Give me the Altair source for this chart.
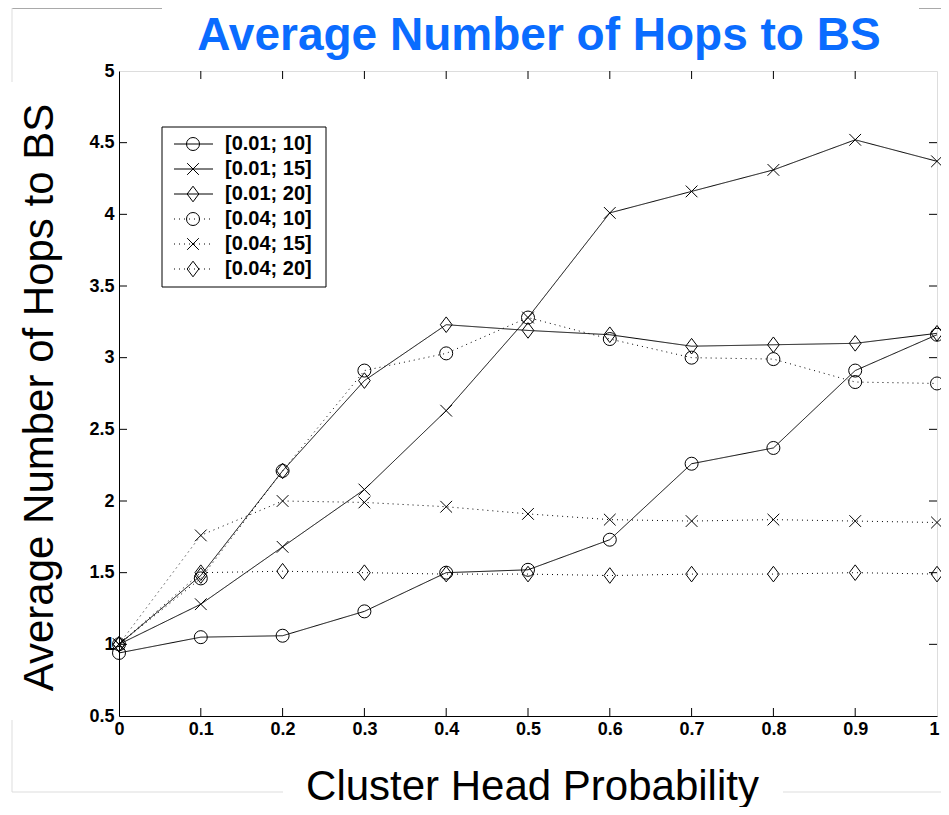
import altair as alt
import pandas as pd

# ---------------- data ----------------
x_vals = [0.0, 0.1, 0.2, 0.3, 0.4, 0.5, 0.6, 0.7, 0.8, 0.9, 1.0]
series_names = ["[0.01; 10]", "[0.01; 15]", "[0.01; 20]",
                "[0.04; 10]", "[0.04; 15]", "[0.04; 20]"]
s_001_10 = [0.94, 1.05, 1.06, 1.23, 1.50, 1.52, 1.73, 2.26, 2.37, 2.91, 3.16]
s_001_15 = [1.00, 1.28, 1.68, 2.08, 2.63, 3.28, 4.01, 4.16, 4.31, 4.52, 4.37]
s_001_20 = [1.00, 1.48, 2.21, 2.84, 3.23, 3.19, 3.16, 3.08, 3.09, 3.10, 3.17]
s_004_10 = [1.00, 1.46, 2.21, 2.91, 3.03, 3.28, 3.13, 3.00, 2.99, 2.83, 2.82]
s_004_15 = [1.00, 1.76, 2.00, 1.99, 1.96, 1.91, 1.87, 1.86, 1.87, 1.86, 1.85]
s_004_20 = [1.00, 1.50, 1.51, 1.50, 1.49, 1.49, 1.48, 1.49, 1.49, 1.50, 1.49]
all_series = [s_001_10, s_001_15, s_001_20, s_004_10, s_004_15, s_004_20]

x_tick_vals = [0.0, 0.1, 0.2, 0.3, 0.4, 0.5, 0.6, 0.7, 0.8, 0.9, 1.0]
y_tick_vals = [0.5, 1.0, 1.5, 2.0, 2.5, 3.0, 3.5, 4.0, 4.5, 5.0]
title_text = "Average Number of Hops to BS"

rows = []
for name, ys in zip(series_names, all_series):
    for xv, yv in zip(x_vals, ys):
        rows.append({"x": xv, "y": yv, "series": name})
df = pd.DataFrame(rows)

# ---------------- layout ----------------
W, H = 818, 645
XMIN, XMAX, YMIN, YMAX = 0.0, 1.0, 0.5, 5.0
FONT = "Liberation Sans"
TICK_PX = 8
tdx = TICK_PX / W * (XMAX - XMIN)
tdy = TICK_PX / H * (YMAX - YMIN)

tick_rows = []
for t in x_tick_vals[1:-1]:
    tick_rows.append({"tx": t, "tx2": t, "ty": YMIN, "ty2": YMIN + tdy})
    tick_rows.append({"tx": t, "tx2": t, "ty": YMAX, "ty2": YMAX - tdy})
for t in y_tick_vals[1:-1]:
    tick_rows.append({"tx": XMIN, "tx2": XMIN + tdx, "ty": t, "ty2": t})
    tick_rows.append({"tx": XMAX, "tx2": XMAX - tdx, "ty": t, "ty2": t})
ticks_df = pd.DataFrame(tick_rows)

x_scale = alt.Scale(domain=[XMIN, XMAX], nice=False, zero=False)
y_scale = alt.Scale(domain=[YMIN, YMAX], nice=False, zero=False)

CROSS = "M-0.9,-0.9L0.9,0.9M0.9,-0.9L-0.9,0.9"
DIAMOND = "M0,-1.2L0.9,0L0,1.2L-0.9,0Z"
shape_scale = alt.Scale(domain=series_names,
                        range=["circle", CROSS, DIAMOND] * 2)
dash_scale = alt.Scale(domain=series_names,
                       range=[[1, 0]] * 3 + [[1, 4]] * 3)

x_axis = alt.Axis(values=x_tick_vals, format="~g",
                  title="Cluster Head Probability",
                  titleFont=FONT, titleFontSize=42, titleFontWeight="normal",
                  titleColor="black", titleX=413, titleY=83,
                  titleAlign="center", titleBaseline="alphabetic",
                  labelFont=FONT, labelFontSize=18, labelFontWeight="bold",
                  labelColor="black", labelPadding=4, labelFlush=False,
                  labelOffset={"condition": {"test": "datum.value >= 1",
                                             "value": -3},
                               "value": 0},
                  labelOverlap=False, ticks=False, tickSize=0, grid=False,
                  domainColor="black", domainWidth=1)
y_axis = alt.Axis(values=y_tick_vals, format="~g",
                  title="Average Number of Hops to BS",
                  titleFont=FONT, titleFontSize=42, titleFontWeight="normal",
                  titleColor="black", titleX=-67, titleY=326, titleAngle=-90,
                  titleAlign="center", titleBaseline="alphabetic",
                  labelFont=FONT, labelFontSize=18, labelFontWeight="bold",
                  labelColor="black", labelPadding=5, labelFlush=False,
                  labelOverlap=False, ticks=False, tickSize=0, grid=False,
                  domainColor="black", domainWidth=1)

base = alt.Chart(df)
lines = base.mark_line(color="black", strokeWidth=1).encode(
    x=alt.X("x:Q", scale=x_scale, axis=x_axis),
    y=alt.Y("y:Q", scale=y_scale, axis=y_axis),
    strokeDash=alt.StrokeDash("series:N", scale=dash_scale, legend=None),
    detail="series:N",
)
points = base.mark_point(filled=False, color="black", size=169,
                         strokeWidth=1, opacity=1).encode(
    x=alt.X("x:Q", scale=x_scale),
    y=alt.Y("y:Q", scale=y_scale),
    shape=alt.Shape("series:N", scale=shape_scale, legend=None),
)
ticks = alt.Chart(ticks_df).mark_rule(color="black", strokeWidth=1).encode(
    x=alt.X("tx:Q", scale=x_scale),
    x2="tx2:Q",
    y=alt.Y("ty:Q", scale=y_scale),
    y2="ty2:Q",
)
main = alt.layer(lines, points, ticks)

# ---------------- legend ----------------
legend_df = pd.DataFrame({"series": series_names})
ly = alt.Y("series:N", axis=None,
           scale=alt.Scale(type="point", domain=series_names,
                           range=[73, 198], padding=0))
legend_box = alt.Chart(pd.DataFrame({"k": [0]})).mark_rect(
    fill="white", stroke="black", strokeWidth=1).encode(
    x=alt.value(43), x2=alt.value(207), y=alt.value(56), y2=alt.value(216))
legend_rule = alt.Chart(legend_df).mark_rule(color="black", strokeWidth=1).encode(
    x=alt.value(55), x2=alt.value(94), y=ly,
    strokeDash=alt.StrokeDash("series:N", scale=dash_scale, legend=None))
legend_pts = alt.Chart(legend_df).mark_point(
    filled=False, color="black", size=169, strokeWidth=1, opacity=1).encode(
    x=alt.value(74), y=ly,
    shape=alt.Shape("series:N", scale=shape_scale, legend=None))
legend_txt = alt.Chart(legend_df).mark_text(
    align="left", baseline="middle", font=FONT, fontSize=20,
    fontWeight="bold", color="black").encode(
    x=alt.value(106), y=ly, text="series:N")

# ---------------- title (as text mark) ----------------
title_mark = alt.Chart(pd.DataFrame({"t": [title_text]})).mark_text(
    align="center", baseline="alphabetic", font=FONT, fontSize=46,
    fontWeight="bold", color="#0A6CFF").encode(
    x=alt.value(420), y=alt.value(-21), text="t:N")

# ---------------- slide frame decorations ----------------
def deco(x1, x2, y1, y2, color):
    return alt.Chart(pd.DataFrame({"k": [0]})).mark_rule(
        color=color, strokeWidth=1).encode(
        x=alt.value(x1), x2=alt.value(x2), y=alt.value(y1), y2=alt.value(y2))

decos = [
    deco(-107, 43, -63, -63, "#555555"),
    deco(-107, -107, -63, 11, "#dddddd"),
    deco(800, 830, -63, -63, "#555555"),
    deco(-107, -107, 649, 721, "#dddddd"),
    deco(-107, 164, 721, 721, "#dddddd"),
    deco(664, 830, 721, 721, "#dddddd"),
]

chart = alt.layer(
    main, *decos, title_mark, legend_box, legend_rule, legend_pts, legend_txt
).resolve_scale(y="independent").properties(
    width=W, height=H,
    padding={"left": 111, "top": 63, "right": 4, "bottom": 91},
    autosize=alt.AutoSizeParams(type="none"),
).configure_view(stroke="black", strokeWidth=1).configure(background="white")

chart.save("out.html", embed_options={"renderer": "svg", "actions": False})
